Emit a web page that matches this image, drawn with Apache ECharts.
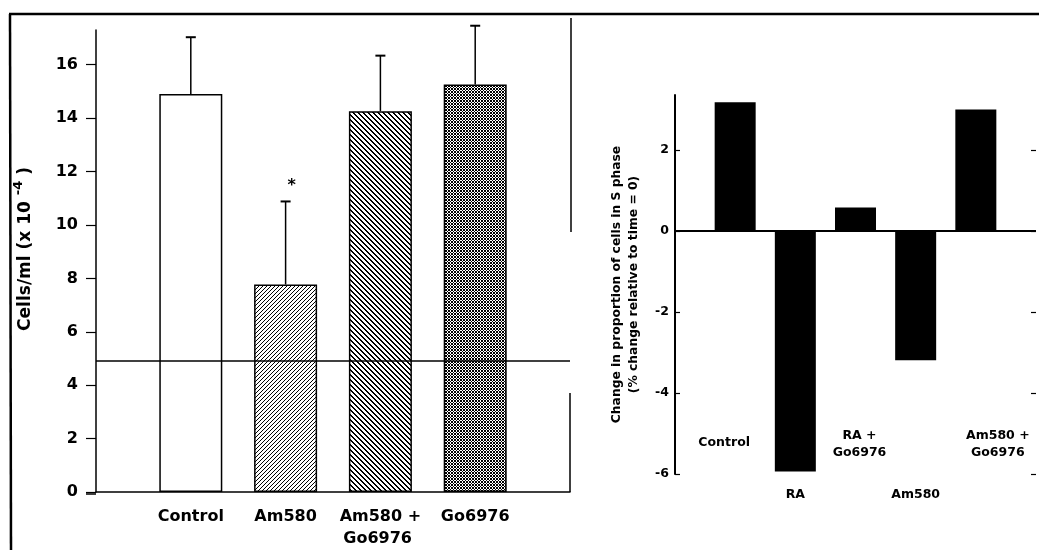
<!DOCTYPE html>
<html>
<head>
<meta charset="utf-8">
<script src="https://cdn.jsdelivr.net/npm/echarts@6/dist/echarts.min.js"></script>
<style>
html,body{margin:0;padding:0;background:#fff;}
#chart{width:1039px;height:550px;}
</style>
</head>
<body>
<div id="chart"></div>
<script>
// ---------- DATA ----------
// Left panel: cell counts (Cells/ml x 10^-4)
const cellCategories = ['Control', 'Am580', 'Am580 +\nGo6976 ', 'Go6976'];
const cellMeans = [14.9, 7.77, 14.26, 15.26];
const cellErrors = [2.13, 3.11, 2.08, 2.2];
const cellSignificance = ['', '*', '', ''];
const cellBaseline = 4.9;
const cellTicks = [0, 2, 4, 6, 8, 10, 12, 14, 16];

// Right panel: change in proportion of cells in S phase
const sCategories = ['Control', 'RA', 'RA +\nGo6976', 'Am580', 'Am580 +\nGo6976'];
const sChange = [3.18, -5.94, 0.58, -3.19, 3.0];
const sTicks = [-6, -4, -2, 0, 2];
const sUpperRow = ['Control', 'RA +\nGo6976', 'Am580 +\nGo6976'];

// ---------- STYLES ----------
const FONT = 'DejaVu Sans';
function makePattern(size, isBlack) {
  const c = document.createElement('canvas');
  c.width = size; c.height = size;
  const ctx = c.getContext('2d');
  const img = ctx.createImageData(size, size);
  for (let y = 0; y < size; y++) {
    for (let x = 0; x < size; x++) {
      const k = (y * size + x) * 4;
      const v = isBlack(x, y) ? 0 : 255;
      img.data[k] = v; img.data[k + 1] = v; img.data[k + 2] = v; img.data[k + 3] = 255;
    }
  }
  ctx.putImageData(img, 0, 0);
  return c;
}
const hatchUp = makePattern(4, (x, y) => (x + y) % 4 === 0);
const hatchDown = makePattern(5, (x, y) => ((x - y) % 5 + 5) % 5 < 2);
const crossHatch = makePattern(3, (x, y) => (x + y) % 3 === 0 || ((x - y) % 3 + 3) % 3 === 0);
const cellFills = ['#ffffff', { image: hatchUp, repeat: 'repeat' }, { image: hatchDown, repeat: 'repeat' }, { image: crossHatch, repeat: 'repeat' }];

const leftAxisData = [''].concat(cellCategories, [' ']);
const rightPad = [''].concat(sCategories, [' ']);
const upperStyles = {
  'Control': { padding: [0, 22, 10, 0] },
  'RA +\nGo6976': { padding: [0, 0, 0, 8] },
  'Am580 +\nGo6976': { padding: [0, 0, 0, 44] }
};
const rightUpperData = rightPad.map(v => ({
  value: v,
  textStyle: sUpperRow.includes(v) ? upperStyles[v] : {}
}));

const chart = echarts.init(document.getElementById('chart'), null, { renderer: 'canvas' });

const leftBarData = [null].concat(cellMeans.map((v, i) => ({
  value: v,
  itemStyle: { color: cellFills[i] }
})), [null]);

const errData = cellMeans.map((m, i) => [i + 1, m, m + cellErrors[i]]);
const rightBarData = [null].concat(sChange, [null]);

const option = {
  animation: false,
  backgroundColor: '#ffffff',
  textStyle: { fontFamily: FONT, color: '#000' },
  graphic: [
    { type: 'line', shape: { x1: 9, y1: 14, x2: 1039, y2: 14 }, style: { stroke: '#000', lineWidth: 2.5 } },
    { type: 'line', shape: { x1: 10, y1: 14, x2: 11, y2: 550 }, style: { stroke: '#000', lineWidth: 2.5 } },
    { type: 'line', shape: { x1: 571, y1: 18, x2: 571, y2: 232 }, style: { stroke: '#000', lineWidth: 1.5 } },
    { type: 'line', shape: { x1: 570, y1: 393, x2: 570, y2: 492 }, style: { stroke: '#000', lineWidth: 1.5 } },
    { type: 'line', shape: { x1: 86, y1: 494, x2: 96, y2: 494 }, style: { stroke: '#000', lineWidth: 1.5 } }
  ],
  grid: [
    { left: 96, right: 469, top: 30, bottom: 56 },
    { left: 675, right: 0, top: 95, bottom: 76 },
    { left: 675, right: 0, top: 95, bottom: 76 }
  ],
  xAxis: [
    {
      gridIndex: 0, type: 'category', data: leftAxisData, boundaryGap: false,
      axisLine: { onZero: false, lineStyle: { color: '#000', width: 1.5 } },
      axisTick: { show: false },
      axisLabel: { interval: 0, margin: 14, color: '#000', fontFamily: FONT, fontWeight: 'bold', fontSize: 16, lineHeight: 22 },
      splitLine: { show: false }
    },
    {
      gridIndex: 1, type: 'category', data: rightUpperData, boundaryGap: false,
      axisLine: { show: false, onZero: false },
      axisTick: { show: false },
      axisLabel: {
        inside: true, interval: 0, margin: 13, color: '#000', fontFamily: FONT, fontWeight: 'bold', fontSize: 12.5, lineHeight: 17,
        formatter: v => sUpperRow.includes(v) ? v : ''
      },
      splitLine: { show: false }
    },
    {
      gridIndex: 2, type: 'category', data: rightPad, boundaryGap: false,
      axisLine: { show: false, onZero: false },
      axisTick: { show: false },
      axisLabel: {
        interval: 0, margin: 12, color: '#000', fontFamily: FONT, fontWeight: 'bold', fontSize: 12.5, lineHeight: 17,
        formatter: v => (v.trim() === '' || sUpperRow.includes(v)) ? '' : v
      },
      splitLine: { show: false }
    }
  ],
  yAxis: [
    {
      gridIndex: 0, type: 'value', min: 0, max: 17.3,
      name: '{a|Cells/ml (x 10 }{s|-4}{a| )}',
      nameLocation: 'middle', nameRotate: 90, nameGap: 57,
      nameTextStyle: {
        padding: [0, 0, 0, 24],
        rich: {
          a: { fontFamily: FONT, fontWeight: 'bold', fontSize: 17, color: '#000' },
          s: { fontFamily: FONT, fontWeight: 'bold', fontSize: 13, color: '#000', padding: [0, 0, 14, 0] }
        }
      },
      axisLine: { show: true, lineStyle: { color: '#000', width: 1.5 } },
      axisTick: { show: true, inside: false, length: 10, lineStyle: { color: '#000', width: 1.2 }, customValues: cellTicks },
      axisLabel: { margin: 18, color: '#000', fontFamily: FONT, fontWeight: 'bold', fontSize: 16, customValues: cellTicks },
      splitLine: { show: false }
    },
    {
      gridIndex: 1, type: 'value', min: -6, max: 3.36, position: 'left',
      name: 'Change in proportion of cells in S phase\n(% change relative to time = 0)',
      nameLocation: 'middle', nameRotate: 90, nameGap: 33,
      nameTextStyle: { fontFamily: FONT, fontWeight: 'bold', fontSize: 12.3, lineHeight: 17, color: '#000', align: 'center' },
      axisLine: { show: true, lineStyle: { color: '#000', width: 2 } },
      axisTick: { show: true, inside: true, length: 5, lineStyle: { color: '#000', width: 1.2 }, customValues: sTicks },
      axisLabel: { margin: 6, color: '#000', fontFamily: FONT, fontWeight: 'bold', fontSize: 12.5, customValues: sTicks },
      splitLine: { show: false }
    },
    {
      gridIndex: 1, type: 'value', min: -6, max: 3.36, position: 'right',
      axisLine: { show: false },
      axisTick: { show: true, inside: true, length: 5, lineStyle: { color: '#000', width: 1.2 }, customValues: sTicks },
      axisLabel: { show: false },
      splitLine: { show: false }
    },
    { gridIndex: 2, type: 'value', min: -6, max: 3.36, show: false }
  ],
  series: [
    {
      type: 'bar', xAxisIndex: 0, yAxisIndex: 0, data: leftBarData, barWidth: 63,
      itemStyle: { borderColor: '#000', borderWidth: 1.5 },
      markLine: {
        symbol: 'none', silent: true, label: { show: false },
        lineStyle: { color: '#000', width: 1.5, type: 'solid' },
        data: [{ yAxis: cellBaseline }]
      },
      z: 2
    },
    {
      type: 'custom', xAxisIndex: 0, yAxisIndex: 0, data: errData, z: 3,
      renderItem: function (params, api) {
        const base = api.coord([api.value(0), api.value(1)]);
        const top = api.coord([api.value(0), api.value(2)]);
        const sig = cellSignificance[params.dataIndex];
        const children = [
          { type: 'line', shape: { x1: base[0], y1: base[1], x2: top[0], y2: top[1] }, style: { stroke: '#000', lineWidth: 1.5 } },
          { type: 'line', shape: { x1: top[0] - 5, y1: top[1], x2: top[0] + 5, y2: top[1] }, style: { stroke: '#000', lineWidth: 2 } }
        ];
        if (sig) {
          children.push({ type: 'text', x: top[0] + 6, y: top[1] - 16, style: { text: sig, fill: '#000', font: 'bold 16px "DejaVu Sans"', align: 'center', verticalAlign: 'middle' } });
        }
        return { type: 'group', children: children };
      }
    },
    {
      type: 'bar', xAxisIndex: 1, yAxisIndex: 1, data: rightBarData, barWidth: 41,
      itemStyle: { color: '#000' },
      markLine: {
        symbol: 'none', silent: true, label: { show: false },
        lineStyle: { color: '#000', width: 2, type: 'solid' },
        data: [{ yAxis: 0 }]
      }
    }
  ]
};
chart.setOption(option);
</script>
</body>
</html>
